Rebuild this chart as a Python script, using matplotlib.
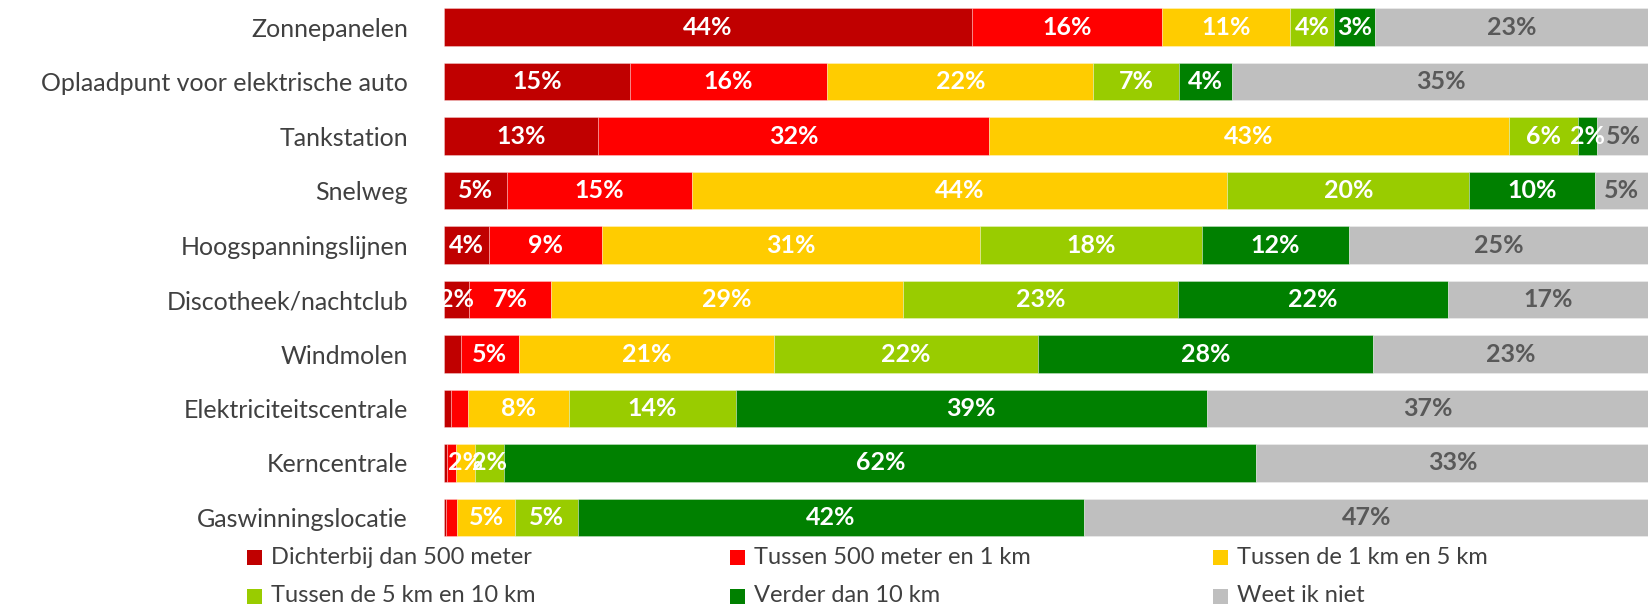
import matplotlib
matplotlib.use("Agg")
import matplotlib.pyplot as plt
from matplotlib.patches import Rectangle
import numpy as np

plt.rcParams['font.family'] = ['Lato', 'DejaVu Sans']

categories = ["Zonnepanelen", "Oplaadpunt voor elektrische auto", "Tankstation", "Snelweg",
              "Hoogspanningslijnen", "Discotheek/nachtclub", "Windmolen",
              "Elektriciteitscentrale", "Kerncentrale", "Gaswinningslocatie"]

series_names = ["Dichterbij dan 500 meter", "Tussen 500 meter en 1 km", "Tussen de 1 km en 5 km",
                "Tussen de 5 km en 10 km", "Verder dan 10 km", "Weet ik niet"]

dichterbij = [43.8, 15.4, 12.8, 5.2, 3.7, 2.1, 1.4, 0.6, 0.26, 0.15]
tussen_500_1 = [15.8, 16.4, 32.4, 15.4, 9.4, 6.8, 4.8, 1.4, 0.7, 0.95]
tussen_1_5 = [10.6, 22.1, 43.2, 44.4, 31.4, 29.2, 21.2, 8.4, 1.6, 4.8]
tussen_5_10 = [3.7, 7.1, 5.7, 20.1, 18.4, 22.8, 21.9, 13.8, 2.45, 5.2]
verder_10 = [3.4, 4.4, 1.6, 10.4, 12.2, 22.4, 27.8, 39.1, 62.4, 42.0]
weet_niet = [22.7, 34.6, 4.6, 4.6, 24.9, 16.7, 22.9, 36.7, 32.6, 47.0]

colors = ["#C00000", "#FF0000", "#FFCC00", "#99CC00", "#008000", "#BFBFBF"]
label_colors = ["white", "white", "white", "white", "white", "#595959"]

data = np.array([dichterbij, tussen_500_1, tussen_1_5, tussen_5_10, verder_10, weet_niet], dtype=float)

fig = plt.figure(figsize=(16.49, 6.08), dpi=100)
ax = fig.add_axes([444/1649, 1 - 544.7/608, 1 - 444/1649, 544.7/608])

y = np.arange(len(categories))
left = np.zeros(len(categories))
for i in range(len(series_names)):
    ax.barh(y, data[i], left=left, height=0.69, color=colors[i],
            edgecolor=(1, 1, 1, 0.35), linewidth=0.6, label=series_names[i])
    for j in range(len(categories)):
        v = data[i, j]
        if round(v) >= 2:
            xc = (left[j] + min(left[j] + v, 100)) / 2
            ax.text(xc, y[j], f"{round(v)}%", ha="center", va="center",
                    color=label_colors[i], fontsize=18, fontweight="bold")
    left += data[i]

ax.set_xlim(0, 100)
ax.set_ylim(len(categories) - 0.5, -0.5)
ax.set_yticks(y)
ax.set_yticklabels(categories, fontsize=18, color="#404040")
ax.tick_params(axis="y", length=0, pad=26)
ax.set_xticks([])
for s in ax.spines.values():
    s.set_visible(False)

# legend (row-major, 3 columns)
col_x = [247, 730, 1213]
row_y = [557, 596]
for k, name in enumerate(series_names):
    r, c = divmod(k, 3)
    x0 = col_x[c] / 1649
    yc = 1 - row_y[r] / 608
    sq_w = 15 / 1649
    sq_h = 15 / 608
    fig.patches.append(Rectangle((x0, yc - sq_h / 2), sq_w, sq_h, transform=fig.transFigure,
                                 facecolor=colors[k], edgecolor="none"))
    fig.text(x0 + 24 / 1649, yc, name, ha="left", va="center", fontsize=17, color="#404040")

fig.savefig("out.png", dpi=100)
